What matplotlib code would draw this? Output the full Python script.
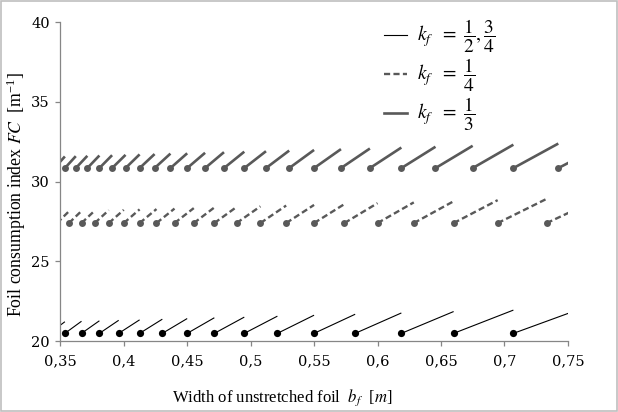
import matplotlib
matplotlib.use("Agg")
import matplotlib.pyplot as plt
from matplotlib.lines import Line2D
from matplotlib.patches import Rectangle

plt.rcParams['font.family'] = ['Liberation Serif', 'DejaVu Serif']
plt.rcParams['mathtext.fontset'] = 'stix'

# break points of the saw-tooth curves (width b_f, m) and FC at segment start / end
black_x = [0.3414, 0.3536, 0.3667, 0.3808, 0.3960, 0.4125, 0.4304, 0.4500, 0.4714,
           0.4950, 0.5211, 0.5500, 0.5824, 0.6188, 0.6600, 0.7071, 0.7615]
black_y0 = 20.48
black_y1 = [21.21, 21.24, 21.27, 21.30, 21.33, 21.37, 21.41, 21.46, 21.50, 21.56,
            21.62, 21.68, 21.76, 21.85, 21.94, 22.06]

dash_x = [0.3474, 0.3568, 0.3667, 0.3771, 0.3882, 0.4000, 0.4125, 0.4258, 0.4400,
          0.4552, 0.4714, 0.4889, 0.5077, 0.5280, 0.5500, 0.5739, 0.6000, 0.6286,
          0.6600, 0.6947, 0.7333, 0.7765]
dash_y0 = 27.40
dash_y1 = [28.14, 28.16, 28.18, 28.21, 28.23, 28.26, 28.28, 28.31, 28.34, 28.38,
           28.41, 28.45, 28.50, 28.54, 28.59, 28.65, 28.70, 28.77, 28.84, 28.92, 29.01]

gray_x = [0.3453, 0.3536, 0.3622, 0.3713, 0.3808, 0.3908, 0.4014, 0.4125, 0.4243,
          0.4368, 0.4500, 0.4641, 0.4790, 0.4950, 0.5121, 0.5304, 0.5500, 0.5712,
          0.5940, 0.6188, 0.6457, 0.6750, 0.7071, 0.7425, 0.7816]
gray_y0 = 30.85
gray_y1 = [31.58, 31.60, 31.62, 31.64, 31.66, 31.68, 31.71, 31.73, 31.76, 31.78,
           31.81, 31.85, 31.88, 31.91, 31.95, 31.99, 32.04, 32.08, 32.14, 32.19,
           32.25, 32.32, 32.39, 32.47]

x_ticks = [0.35, 0.40, 0.45, 0.50, 0.55, 0.60, 0.65, 0.70, 0.75]
x_ticklabels = ['0,35', '0,4', '0,45', '0,5', '0,55', '0,6', '0,65', '0,7', '0,75']
y_ticks = [20, 25, 30, 35, 40]

legend_labels = [r'$k_f\ \ =\ \dfrac{1}{2},\dfrac{3}{4}$',
                 r'$k_f\ \ =\ \dfrac{1}{4}$',
                 r'$k_f\ \ =\ \dfrac{1}{3}$']

fig = plt.figure(figsize=(6.18, 4.12), dpi=100)
ax = fig.add_axes([0.0976, 0.1723, 0.8212, 0.7736])


def saw(xs, y0, y1, color, lw, ls, ms):
    for i in range(len(xs) - 1):
        ax.plot([xs[i], xs[i + 1]], [y0, y1[i]], color=color, lw=lw,
                linestyle=ls, solid_capstyle='butt', dash_capstyle='butt')
    dots = [x for x in xs if 0.35 <= x <= 0.75]
    ax.plot(dots, [y0] * len(dots), 'o', color=color, ms=ms, mec='none')


gray = '#595959'
dashes = (0, (2.6, 1.4))
saw(black_x, black_y0, black_y1, 'black', 0.8, '-', 5.2)
saw(dash_x, dash_y0, dash_y1, gray, 1.7, dashes, 5.0)
saw(gray_x, gray_y0, gray_y1, gray, 1.9, '-', 5.0)

ax.set_xlim(0.35, 0.75)
ax.set_ylim(20, 40)
ax.set_xticks(x_ticks)
ax.set_xticklabels(x_ticklabels)
ax.set_yticks(y_ticks)

for s in ['top', 'right']:
    ax.spines[s].set_visible(False)
for s in ['left', 'bottom']:
    ax.spines[s].set_color('#868686')
    ax.spines[s].set_linewidth(0.9)
ax.tick_params(axis='both', colors='#868686', labelcolor='black',
               length=3.5, width=0.9)
ax.tick_params(axis='x', pad=6)
ax.tick_params(axis='y', pad=4)
for t in ax.get_xticklabels() + ax.get_yticklabels():
    t.set_family('DejaVu Serif')
    t.set_fontsize(10.5)

fig.text(0.456, 0.034, r'Width of unstretched foil  $b_f$  [$m$]', fontsize=12,
         ha='center', va='center')
fig.text(0.026, 0.529, r'Foil consumption index $FC$  [m$^{\mathregular{-1}}$]',
         fontsize=12.8, ha='center', va='center', rotation=90)

handles = [Line2D([], [], color='black', lw=0.8),
           Line2D([], [], color=gray, lw=1.7, linestyle=dashes),
           Line2D([], [], color=gray, lw=1.9)]
ax.legend(handles, legend_labels, loc='upper left', bbox_to_anchor=(0.603, 1.07),
          frameon=False, fontsize=14, handlelength=1.2, handletextpad=0.5,
          labelspacing=0.12)

fig.patches.append(Rectangle((0.002, 0.002), 0.996, 0.996, transform=fig.transFigure,
                             fill=False, edgecolor='#bfbfbf', lw=1.2))

fig.savefig('out.png', dpi=100)
